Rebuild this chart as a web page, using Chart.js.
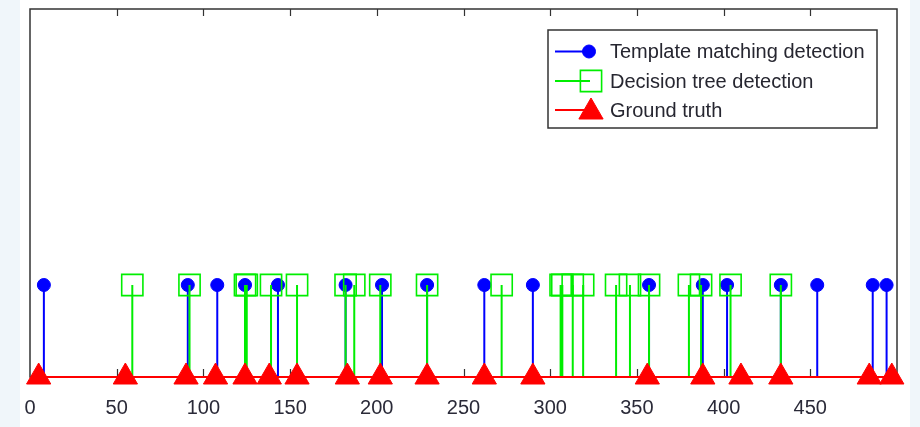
<!DOCTYPE html>
<html>
<head>
<meta charset="utf-8">
<script src="https://cdn.jsdelivr.net/npm/chart.js@4.4.0/dist/chart.umd.min.js"></script>
<style>
  html, body { margin: 0; padding: 0; background: #f0f6fa; }
  #wrap { position: absolute; left: 20px; top: 0; width: 890px; height: 427px; background: #fff; }
</style>
</head>
<body>
<div id="wrap"><canvas id="stem_cv" width="890" height="427"></canvas></div>
<script>
// series names
var seriesNames = ['Template matching detection', 'Decision tree detection', 'Ground truth'];
// detection positions (sample index)
var templateX = [8, 91, 108, 124, 143, 182, 203, 229, 262, 290, 357, 388, 402, 433, 454, 486, 494];
var decisionX = [59, 92, 124, 125, 139, 154, 182, 187, 202, 229, 272, 306, 307, 313, 319, 338, 346, 357, 380, 387, 404, 433];
var groundX = [5, 55, 90, 107, 124, 138, 154, 183, 202, 229, 262, 290, 356, 388, 410, 433, 484, 497];
// stem height and x ticks
var detectLevel = 1;
var xTicks = [0, 50, 100, 150, 200, 250, 300, 350, 400, 450];

var colBlue = '#0000ff';
var colGreen = '#00ee00';
var colRed = '#ff0000';
var fontFamily = '"Liberation Sans", Arial, Helvetica, sans-serif';

// each stem: base point, top point, then a gap
function stemPoints(xs, level) {
  var pts = [];
  xs.forEach(function (x) {
    pts.push({x: x, y: 0}, {x: x, y: level}, {x: x, y: null});
  });
  return pts;
}
function topOnly(r) {
  return function (c) {
    return c.raw && c.raw.y === detectLevel ? r : 0;
  };
}

// axes box with inward ticks on top and bottom
var framePlugin = {
  id: 'frame',
  beforeDatasetsDraw: function (chart) {
    var ctx = chart.ctx, a = chart.chartArea, sx = chart.scales.x;
    ctx.save();
    ctx.strokeStyle = '#333';
    ctx.lineWidth = 1.5;
    ctx.strokeRect(a.left, a.top, a.right - a.left, a.bottom - a.top);
    ctx.lineWidth = 1.2;
    ctx.beginPath();
    xTicks.forEach(function (t) {
      if (t === 0) return;
      var px = Math.round(sx.getPixelForValue(t)) + 0.5;
      ctx.moveTo(px, a.top); ctx.lineTo(px, a.top + 7);
      ctx.moveTo(px, a.bottom); ctx.lineTo(px, a.bottom - 8);
    });
    ctx.stroke();
    ctx.restore();
  }
};

// legend box in the upper right corner
var legendPlugin = {
  id: 'boxLegend',
  afterDraw: function (chart) {
    var ctx = chart.ctx;
    var bx = 528, by = 30, bw = 329, bh = 98;
    ctx.save();
    ctx.fillStyle = '#fff';
    ctx.fillRect(bx, by, bw, bh);
    ctx.strokeStyle = '#333';
    ctx.lineWidth = 1.5;
    ctx.strokeRect(bx, by, bw, bh);
    var rows = [51.5, 81, 110];
    seriesNames.forEach(function (name, i) {
      var ds = chart.data.datasets.filter(function (d) { return d.label === name; })[0];
      var y = rows[i];
      ctx.strokeStyle = ds.borderColor;
      ctx.lineWidth = ds.borderWidth;
      ctx.beginPath();
      ctx.moveTo(535, y); ctx.lineTo(570, y);
      ctx.stroke();
      ctx.fillStyle = ds.pointBackgroundColor;
      ctx.strokeStyle = ds.pointBorderColor;
      ctx.lineWidth = ds.pointBorderWidth;
      Chart.helpers.drawPoint(ctx, {
        pointStyle: ds.pointStyle, radius: ds.legendRadius, rotation: 0,
        borderWidth: ds.pointBorderWidth
      }, i === 0 ? 569 : 571, y + (i === 2 ? 2 : 0));
      ctx.fillStyle = '#262630';
      ctx.font = '20px ' + fontFamily;
      ctx.textAlign = 'left';
      ctx.textBaseline = 'middle';
      ctx.fillText(ds.label, 590, y + 1);
    });
    ctx.restore();
  }
};

new Chart(document.getElementById('stem_cv'), {
  type: 'scatter',
  data: {
    datasets: [
      {
        label: seriesNames[2],
        data: groundX.map(function (x) { return {x: x, y: 0}; }),
        showLine: true,
        clip: false,
        borderColor: colRed,
        borderWidth: 2,
        pointStyle: 'triangle',
        pointRadius: 14,
        legendRadius: 14,
        pointBackgroundColor: colRed,
        pointBorderColor: colRed,
        pointBorderWidth: 1,
        order: 0
      },
      {
        label: seriesNames[1],
        data: stemPoints(decisionX, detectLevel),
        showLine: true,
        spanGaps: false,
        clip: false,
        borderColor: colGreen,
        borderWidth: 2,
        pointStyle: 'rect',
        pointRadius: topOnly(15),
        legendRadius: 15,
        pointBackgroundColor: 'rgba(0,0,0,0)',
        pointBorderColor: colGreen,
        pointBorderWidth: 1.6,
        order: 1
      },
      {
        label: seriesNames[0],
        data: stemPoints(templateX, detectLevel),
        showLine: true,
        spanGaps: false,
        clip: false,
        borderColor: colBlue,
        borderWidth: 2,
        pointStyle: 'circle',
        pointRadius: topOnly(6.5),
        legendRadius: 6.5,
        pointBackgroundColor: colBlue,
        pointBorderColor: colBlue,
        pointBorderWidth: 1,
        order: 2
      }
    ]
  },
  options: {
    responsive: false,
    animation: false,
    events: [],
    layout: { autoPadding: false, padding: { left: 10, right: 13, top: 9, bottom: 0 } },
    plugins: { legend: { display: false }, tooltip: { enabled: false } },
    scales: {
      x: {
        type: 'linear',
        min: 0,
        max: 500,
        afterBuildTicks: function (s) {
          s.ticks = xTicks.map(function (v) { return {value: v}; });
        },
        afterFit: function (s) {
          s.height = 50;
          s.paddingLeft = 0;
          s.paddingRight = 0;
          s.paddingTop = 0;
          s.paddingBottom = 0;
        },
        grid: { display: false, drawTicks: false },
        border: { display: false },
        ticks: {
          padding: 19,
          maxRotation: 0,
          color: '#2a2a38',
          font: { family: fontFamily, size: 20 }
        }
      },
      y: {
        display: false,
        min: 0,
        max: 4
      }
    }
  },
  plugins: [framePlugin, legendPlugin]
});
</script>
</body>
</html>
